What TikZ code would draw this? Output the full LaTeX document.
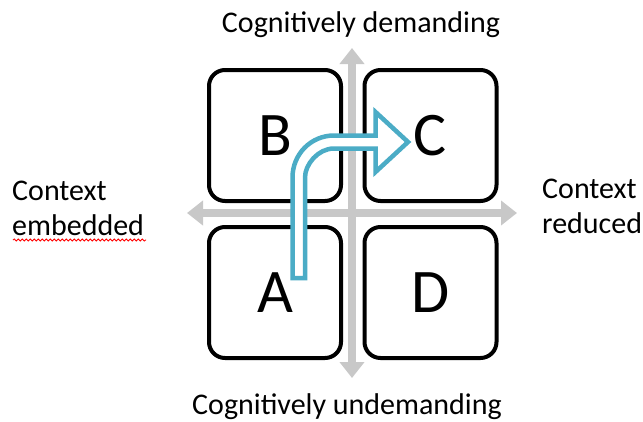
\documentclass[tikz,border=0pt]{standalone}
\usepackage{fontspec}
\setmainfont{Carlito}
\usetikzlibrary{arrows.meta,decorations.pathmorphing}
\definecolor{axisgray}{HTML}{C8C8C8}
\definecolor{arrowblue}{HTML}{4BACC6}
\begin{document}
\begin{tikzpicture}[x=1pt,y=-1pt,
  quad/.style={draw=black, line width=4pt, rounded corners=16pt, minimum width=132pt, minimum height=131pt, fill=white, font=\fontsize{62}{62}\selectfont, inner sep=0pt},
  axisline/.style={draw=axisgray, line width=8pt, {Triangle[width=24pt,length=16pt]}-{Triangle[width=24pt,length=16pt]}},
  lbl/.style={font=\fontsize{30}{35}\selectfont, inner sep=0pt, align=left},
  bluearrow/.style={draw=arrowblue, fill=white, line width=4.5pt, line join=miter}]
\useasboundingbox (0,0) rectangle (643,421);
% axes
\coordinate (vtop) at (352,48);
\coordinate (vbot) at (352,378);
\coordinate (hl) at (187,213);
\coordinate (hr) at (517,213);
\draw[axisline] (vtop) -- (vbot);
\draw[axisline] (hl) -- (hr);
% quadrants
\node[quad] (B) at (275,135.5) {B};
\node[quad] (C) at (430.5,135.5) {C};
\node[quad] (A) at (275,292.5) {A};
\node[quad] (D) at (430.5,292.5) {D};
% blue bent arrow
\draw[bluearrow] (292.5,278) -- (292.5,177.5) .. controls (292.5,154.3) and (310.8,135.5) .. (334,135.5)
  -- (375.5,135.5) -- (375.5,112) -- (408,142) -- (375.5,172) -- (375.5,148.5) -- (334,148.5)
  .. controls (318,148.5) and (305,164.5) .. (305,177.5) -- (305,278) -- cycle;
% labels
\node[lbl, anchor=base] (top) at (361,32) {Cognitively demanding};
\node[lbl, anchor=base] (bottom) at (347,414) {Cognitively undemanding};
\node[lbl, anchor=base west] (left) at (12,235) {Context\\embedded};
\node[lbl, anchor=base west] (right) at (542,233) {Context\\reduced};
\draw[red, line width=0.8pt, decorate, decoration={snake, amplitude=1.1pt, segment length=4pt}] (13,240) -- (146,240);
\end{tikzpicture}
\end{document}
